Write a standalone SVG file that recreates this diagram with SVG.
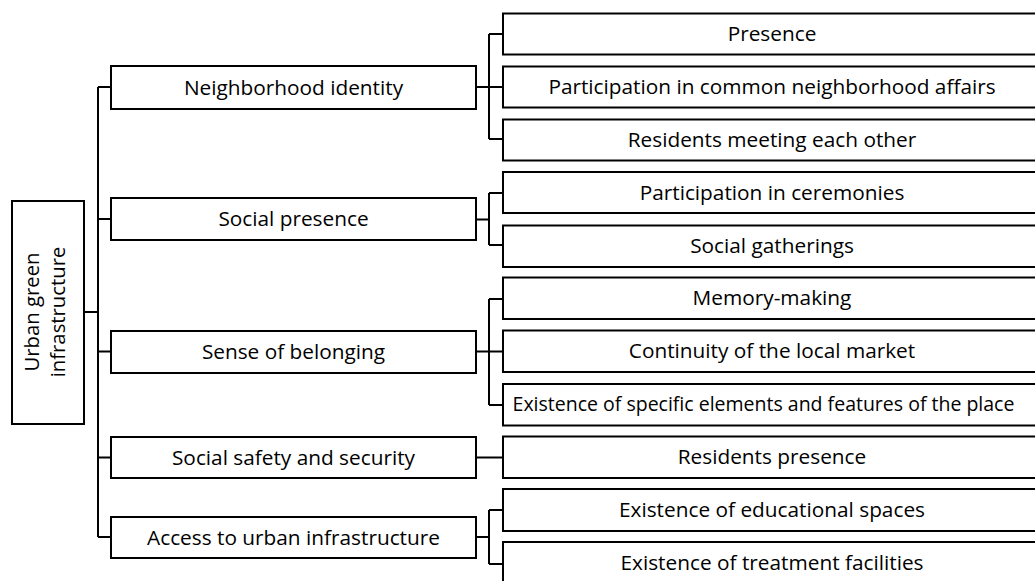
<svg xmlns="http://www.w3.org/2000/svg" width="1035" height="581" viewBox="0 0 1035 581">
<style>
.box{fill:#fff;stroke:#000;stroke-width:2}
.ln{fill:none;stroke:#000;stroke-width:2}
text{font-family:"Open Sans","Noto Sans","DejaVu Sans",sans-serif;font-size:20.8px;fill:#000;text-anchor:middle}
.sm{font-size:19.5px}
.rt{font-size:20.3px}
</style>
<rect width="1035" height="581" fill="#fff"/>
<g id="connectors">
<path class="ln" d="M84 312H98M98 87V537M98 87H111M98 219H111M98 351.5H111M98 457.5H111M98 537H111"/>
<path class="ln" d="M476 87H489M489 34V139M489 34H503M489 87H503M489 139H503"/>
<path class="ln" d="M476 219.5H489M489 193V245M489 193H503M489 245H503"/>
<path class="ln" d="M476 351.5H489M489 299V405M489 299H503M489 351.5H503M489 405H503"/>
<path class="ln" d="M476 457.5H503"/>
<path class="ln" d="M476 537H489M489 510V564M489 510H503M489 564H503"/>
</g>
<g id="root">
<rect class="box" x="12" y="201" width="72" height="223"/>
<text class="rt" transform="translate(39,312) rotate(-90)" x="0" y="0">Urban green</text>
<text class="rt" transform="translate(65,312) rotate(-90)" x="0" y="0">infrastructure</text>
</g>
<g id="m1"><rect class="box" x="111" y="66" width="365" height="43"/><text x="293.5" y="94.5">Neighborhood identity</text></g>
<g id="m2"><rect class="box" x="111" y="198" width="365" height="42"/><text x="293.5" y="226">Social presence</text></g>
<g id="m3"><rect class="box" x="111" y="331" width="365" height="42"/><text x="293.5" y="359">Sense of belonging</text></g>
<g id="m4"><rect class="box" x="111" y="437" width="365" height="41"/><text x="293.5" y="464.5">Social safety and security</text></g>
<g id="m5"><rect class="box" x="111" y="517" width="365" height="41"/><text x="293.5" y="544.5">Access to urban infrastructure</text></g>
<g id="r1"><rect class="box" x="503" y="13.5" width="545" height="41"/><text x="772" y="41">Presence</text></g>
<g id="r2"><rect class="box" x="503" y="66.5" width="545" height="41"/><text x="772" y="94">Participation in common neighborhood affairs</text></g>
<g id="r3"><rect class="box" x="503" y="119.5" width="545" height="41"/><text x="772" y="147">Residents meeting each other</text></g>
<g id="r4"><rect class="box" x="503" y="172" width="545" height="41"/><text x="772" y="199.5">Participation in ceremonies</text></g>
<g id="r5"><rect class="box" x="503" y="225.5" width="545" height="41.5"/><text x="772" y="253">Social gatherings</text></g>
<g id="r6"><rect class="box" x="503" y="277.5" width="545" height="41.5"/><text x="772" y="305">Memory-making</text></g>
<g id="r7"><rect class="box" x="503" y="330.5" width="545" height="41.5"/><text x="772" y="358">Continuity of the local market</text></g>
<g id="r8"><rect class="box" x="503" y="384" width="545" height="41.5"/><text class="sm" x="763.5" y="411">Existence of specific elements and features of the place</text></g>
<g id="r9"><rect class="box" x="503" y="436.5" width="545" height="41.5"/><text x="772" y="464">Residents presence</text></g>
<g id="r10"><rect class="box" x="503" y="489" width="545" height="42"/><text x="772" y="516.5">Existence of educational spaces</text></g>
<g id="r11"><rect class="box" x="503" y="542" width="545" height="45"/><text x="772" y="569.5">Existence of treatment facilities</text></g>
</svg>
